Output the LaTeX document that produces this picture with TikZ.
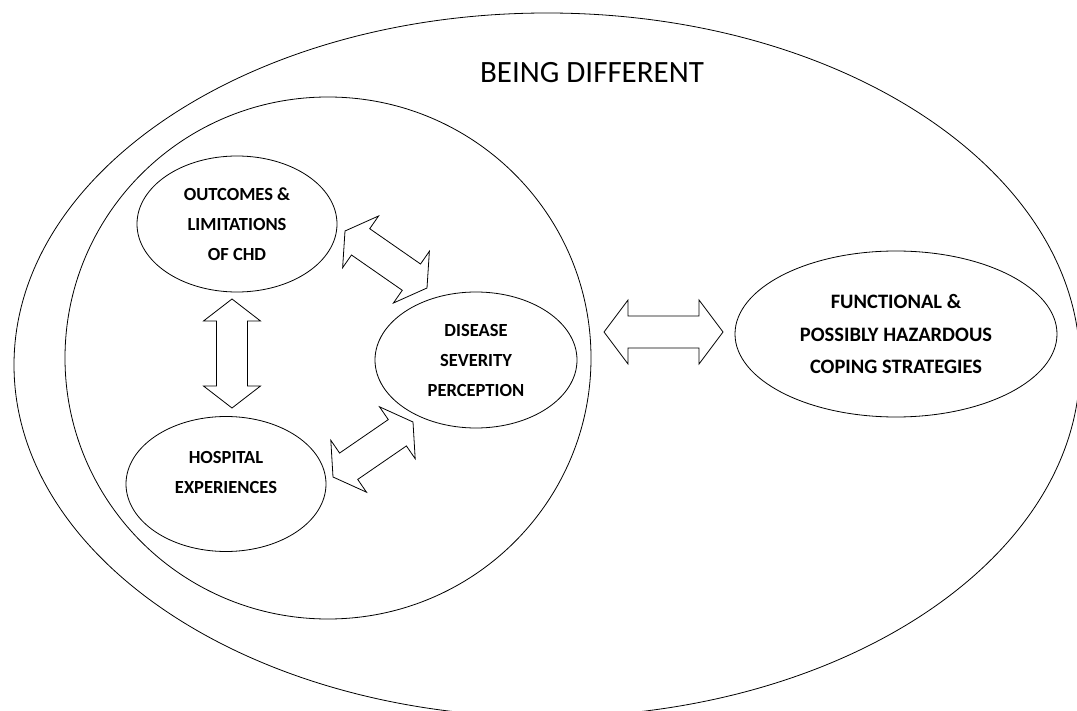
\documentclass[tikz,border=0pt]{standalone}
\usepackage{fontspec}
\setmainfont{Carlito}
\usetikzlibrary{shapes.geometric}
\usetikzlibrary{calc}

\tikzset{
  bubble/.style={draw, ellipse, line width=.8pt, inner sep=0pt, align=center,
    font=\fontsize{18.5}{30}\selectfont\bfseries},
  blockarrow/.style={draw, line width=.8pt, line join=miter},
}

% block double arrow between two tips: #1 #2 tips, #3 head length, #4 head half width, #5 shaft half width
\newcommand{\dblarrow}[5]{
  \draw[blockarrow] (#1)
    -- ($(#1)!#3!(#2)!#4!90:(#2)$)
    -- ($(#1)!#3!(#2)!#5!90:(#2)$)
    -- ($(#2)!#3!(#1)!#5!-90:(#1)$)
    -- ($(#2)!#3!(#1)!#4!-90:(#1)$)
    -- (#2)
    -- ($(#2)!#3!(#1)!#4!90:(#1)$)
    -- ($(#2)!#3!(#1)!#5!90:(#1)$)
    -- ($(#1)!#3!(#2)!#5!-90:(#2)$)
    -- ($(#1)!#3!(#2)!#4!-90:(#2)$)
    -- cycle;
}

\begin{document}
\begin{tikzpicture}[x=1pt, y=-1pt]
  \useasboundingbox (0,0) rectangle (1077,711);
  % the two big rings
  \draw[line width=.8pt] (547,365) ellipse [x radius=533, y radius=352];
  \draw[line width=.8pt] (328,358) ellipse [x radius=263, y radius=261];
  \node[anchor=base, font=\fontsize{31}{37}\selectfont] (diff) at (592,83) {BEING DIFFERENT};

  \node[bubble, minimum width=200pt, minimum height=136pt] (outc) at (237,224) {OUTCOMES \&\\LIMITATIONS\\OF CHD};
  \node[bubble, minimum width=202pt, minimum height=136pt] (dis) at (476,360) {DISEASE\\SEVERITY\\PERCEPTION};
  \node[bubble, minimum width=200pt, minimum height=135pt] (hosp) at (226,484) {};
  \node[align=center, font=\fontsize{18.5}{30}\selectfont\bfseries] (hosptxt) at ([yshift=12pt]hosp.center) {HOSPITAL\\EXPERIENCES};
  \node[bubble, minimum width=322pt, minimum height=166pt,
    font=\fontsize{20.5}{32.5}\selectfont\bfseries] (func) at (896,334) {FUNCTIONAL \&\\POSSIBLY HAZARDOUS\\COPING STRATEGIES};

  % arrow tips
  \coordinate (oh1) at (232,299);
  \coordinate (oh2) at (232,408);
  \coordinate (od1) at (345,231);
  \coordinate (od2) at (427,288);
  \coordinate (hd1) at (333,477);
  \coordinate (hd2) at (413,422);
  \coordinate (df1) at (604,332);
  \coordinate (df2) at (723,332);

  \dblarrow{oh1}{oh2}{22pt}{28.5pt}{15.5pt}
  \dblarrow{od1}{od2}{19pt}{31.5pt}{16pt}
  \dblarrow{hd1}{hd2}{19pt}{31.5pt}{16pt}
  \dblarrow{df1}{df2}{24pt}{32pt}{16pt}
\end{tikzpicture}
\end{document}
